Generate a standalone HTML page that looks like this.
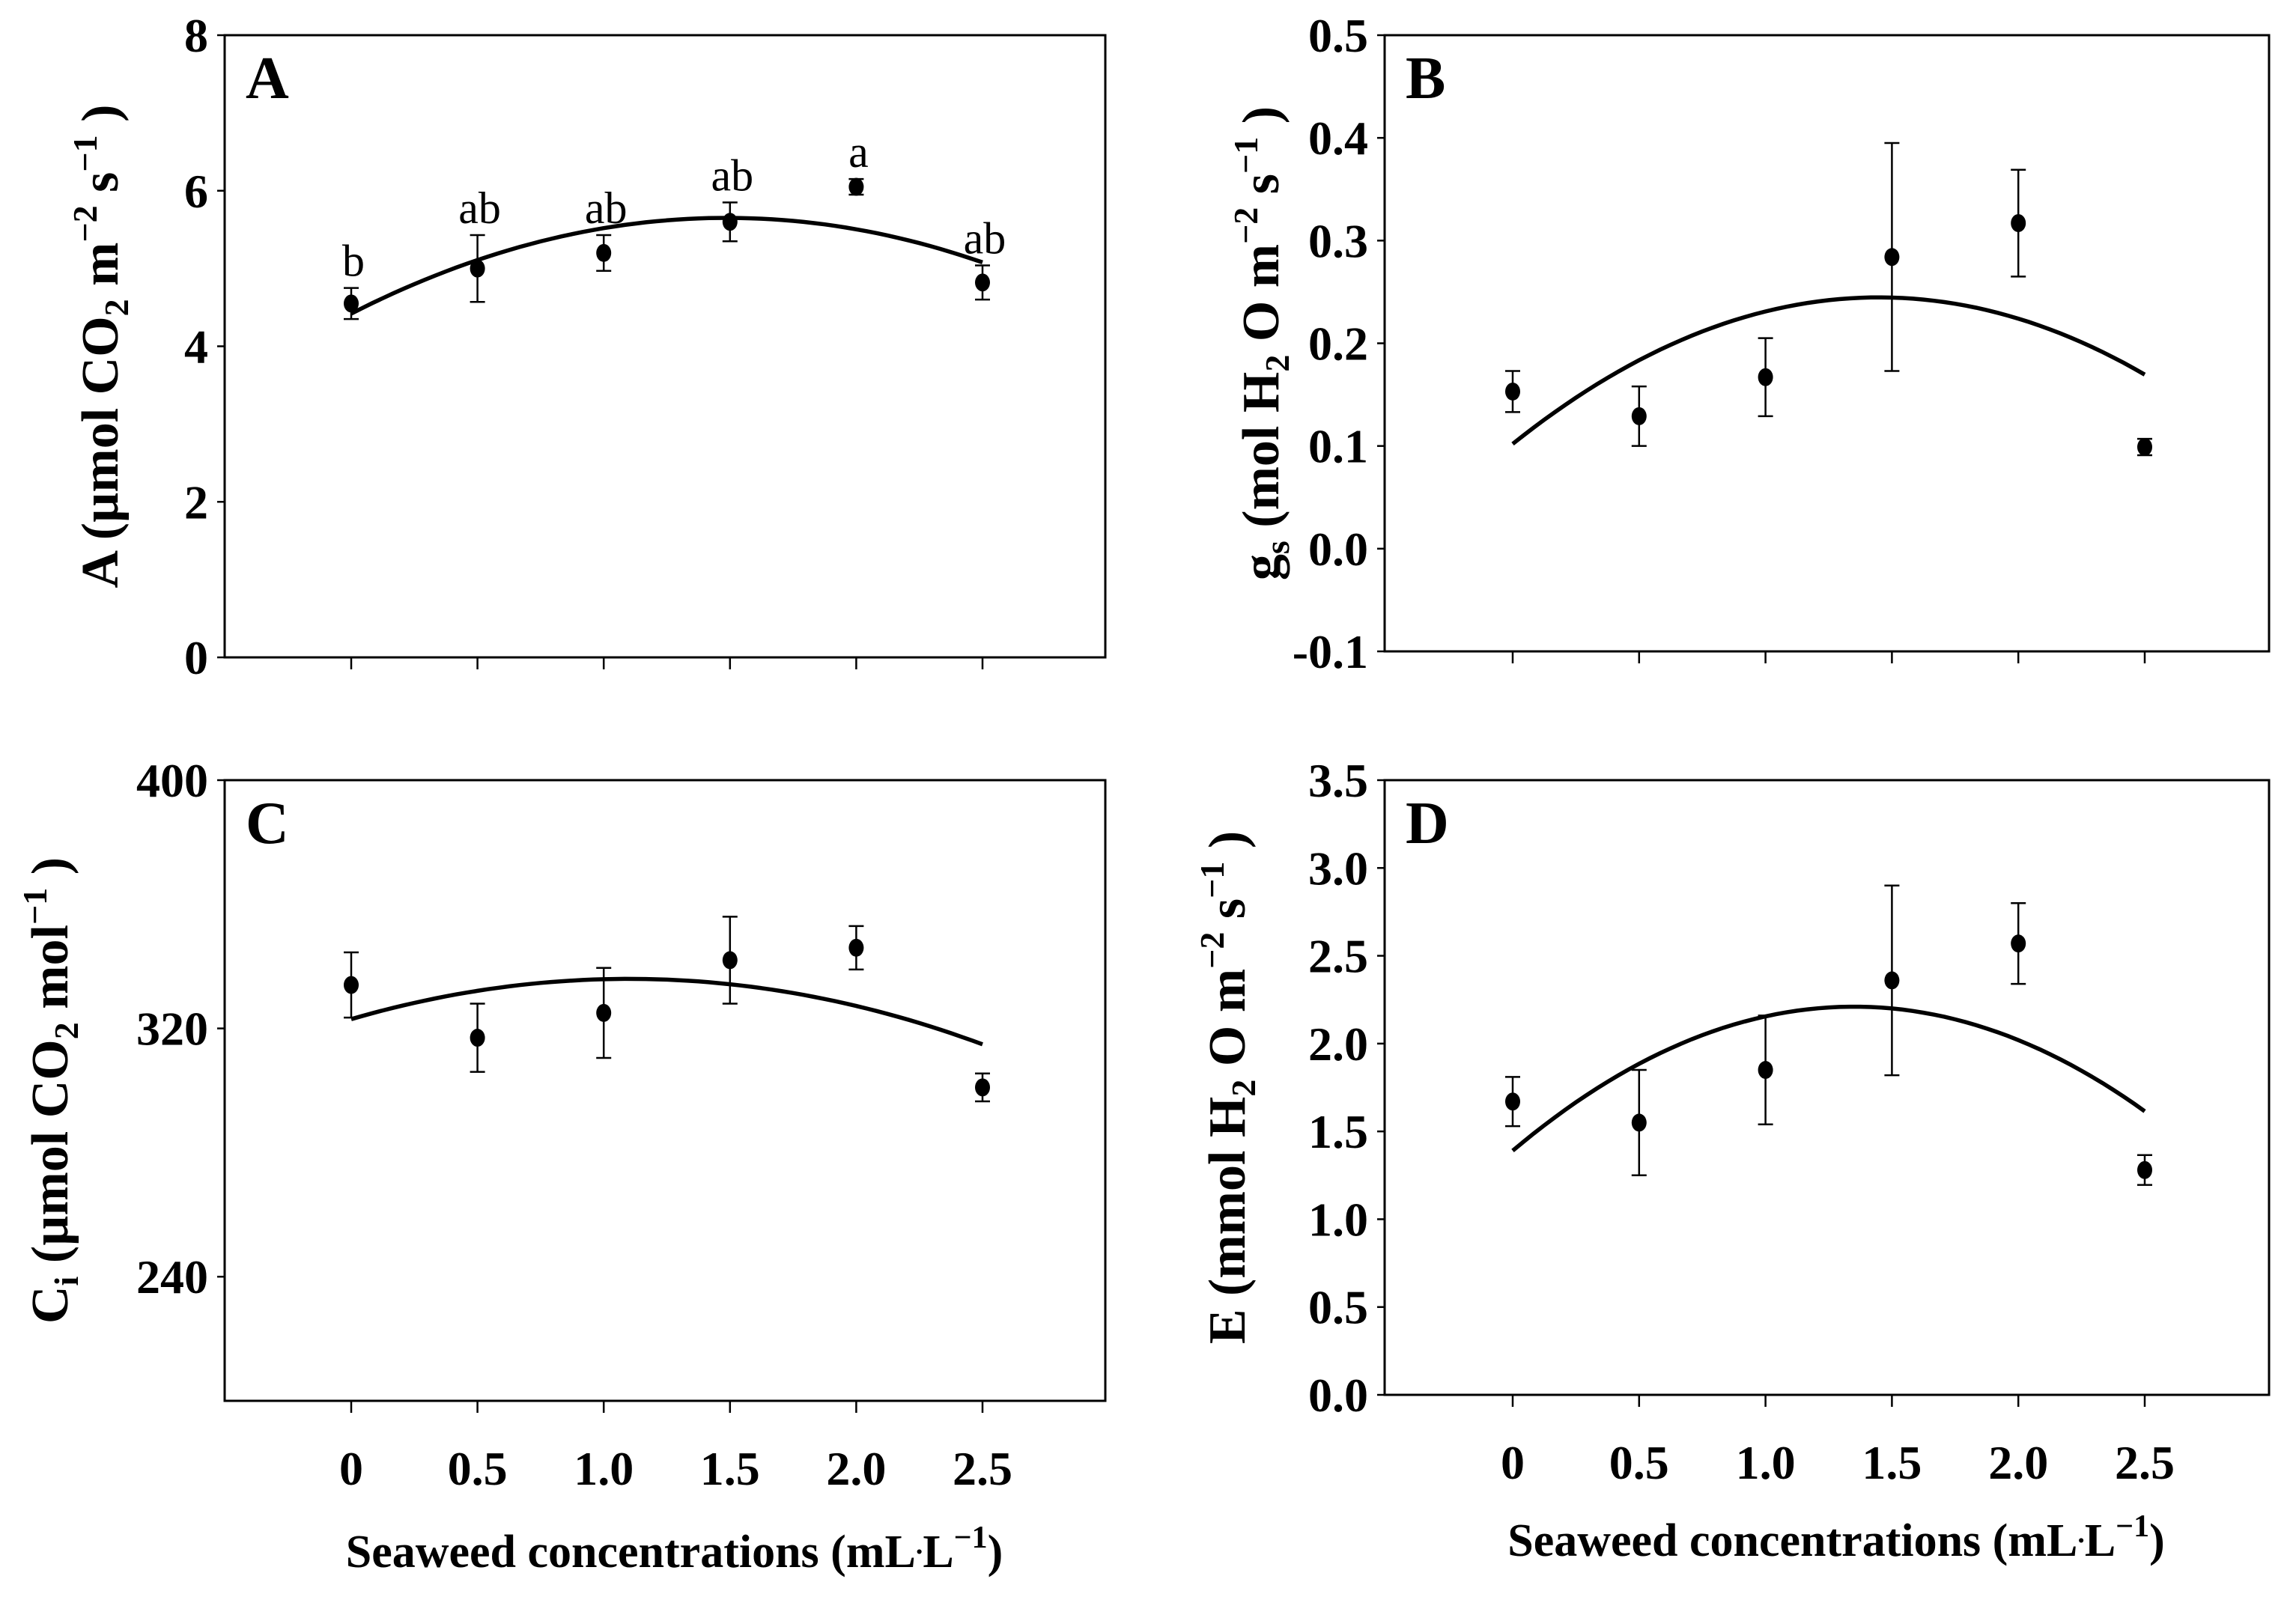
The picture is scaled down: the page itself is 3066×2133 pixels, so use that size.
<!DOCTYPE html>
<html><head><meta charset="utf-8"><style>
html,body{margin:0;padding:0;background:#fff;}
svg{display:block;}
text{font-family:"Liberation Serif",serif;fill:#000;}
</style></head><body>
<svg id="fig" width="3066" height="2133" viewBox="0 0 3066 2133" xmlns="http://www.w3.org/2000/svg"></svg>
<script>
// shared x categories
const xCats = [0, 0.5, 1.0, 1.5, 2.0, 2.5];
const xTickLabels = ["0", "0.5", "1.0", "1.5", "2.0", "2.5"];
// Panel A
const aMeans = [4.55, 5.0, 5.2, 5.6, 6.05, 4.82];
const aErr = [0.2, 0.43, 0.23, 0.25, 0.1, 0.22];
const aLetters = ["b", "ab", "ab", "ab", "a", "ab"];
const aFit = [4.42, 1.656, -0.557];
const aTicks = [0, 2, 4, 6, 8];
const aTickLabels = ["0", "2", "4", "6", "8"];
// Panel B
const bMeans = [0.153, 0.129, 0.167, 0.284, 0.317, 0.099];
const bErr = [0.02, 0.029, 0.038, 0.111, 0.052, 0.008];
const bFit = [0.102, 0.197, -0.068];
const bTicks = [-0.1, 0, 0.1, 0.2, 0.3, 0.4, 0.5];
const bTickLabels = ["-0.1", "0.0", "0.1", "0.2", "0.3", "0.4", "0.5"];
// Panel C
const cMeans = [334, 317, 325, 342, 346, 301];
const cErr = [10.5, 11, 14.5, 14, 7, 4.5];
const cFit = [323, 23.6, -10.74];
const cTicks = [240, 320, 400];
const cTickLabels = ["240", "320", "400"];
// Panel D
const dMeans = [1.67, 1.55, 1.85, 2.36, 2.57, 1.28];
const dErr = [0.14, 0.3, 0.31, 0.54, 0.23, 0.085];
const dFit = [1.39, 1.215, -0.45];
const dTicks = [0, 0.5, 1, 1.5, 2, 2.5, 3, 3.5];
const dTickLabels = ["0.0", "0.5", "1.0", "1.5", "2.0", "2.5", "3.0", "3.5"];

const NS = "http://www.w3.org/2000/svg";
const svg = document.getElementById("fig");
function mk(tag, attrs, parent) {
  const e = document.createElementNS(NS, tag);
  for (const k in attrs) e.setAttribute(k, attrs[k]);
  (parent || svg).appendChild(e);
  return e;
}

function panel(cfg) {
  const g = mk("g", {});
  
  
  const L = cfg.box[0], R = cfg.box[1], T = cfg.box[2], B = cfg.box[3];
  const x0 = cfg.x0, x1 = cfg.x1;
  const sx = v => x0 + (v - xCats[0]) / (xCats[xCats.length - 1] - xCats[0]) * (x1 - x0);
  const sy = v => B - (v - cfg.ymin) / (cfg.ymax - cfg.ymin) * (B - T);
  const frame = mk("rect", {x: L, y: T, width: R - L, height: B - T, fill: "none", stroke: "#000", "stroke-width": 3}, g);
  
  
  cfg.yTicks.forEach((v, i) => {
    const y = sy(v);
    const t = mk("line", {x1: L - 10, x2: L, y1: y, y2: y, stroke: "#000", "stroke-width": 2.5}, g);
    
    
    const tl = mk("text", {x: L - 22, y: y + 22, "text-anchor": "end", "font-size": 64, "font-weight": "bold"}, g);
    tl.textContent = cfg.yTickLabels[i];
    
    
  });
  xCats.forEach((v, i) => {
    const x = sx(v);
    const t = mk("line", {x1: x, x2: x, y1: B, y2: B + 16, stroke: "#000", "stroke-width": 2.5}, g);
    
    
    if (cfg.showX) {
      const tl = mk("text", {x: x, y: B + 112, "text-anchor": "middle", "font-size": 64, "font-weight": "bold"}, g);
      tl.textContent = xTickLabels[i];
      
      
    }
  });
  let d = "";
  const n = 60;
  for (let k = 0; k <= n; k++) {
    const xv = xCats[0] + (xCats[xCats.length - 1] - xCats[0]) * k / n;
    const yv = cfg.fit[0] + cfg.fit[1] * xv + cfg.fit[2] * xv * xv;
    d += (k ? "L" : "M") + sx(xv).toFixed(1) + "," + sy(yv).toFixed(1);
  }
  const c = mk("path", {d: d, fill: "none", stroke: "#000", "stroke-width": 5.5}, g);
  
  
  cfg.means.forEach((m, i) => {
    const x = sx(xCats[i]);
    const yt = sy(m + cfg.err[i]), yb = sy(m - cfg.err[i]);
    const eb = mk("path", {d: `M${x},${yt}L${x},${yb}M${x-10},${yt}L${x+10},${yt}M${x-10},${yb}L${x+10},${yb}`, stroke: "#000", "stroke-width": 2.5, fill: "none"}, g);
    
    
    const p = mk("ellipse", {cx: x, cy: sy(m), rx: 10, ry: 12, fill: "#000"}, g);
    
    
    if (cfg.letters) {
      const lt = mk("text", {x: x + 3, y: yt - 16, "text-anchor": "middle", "font-size": 60}, g);
      lt.textContent = cfg.letters[i];
      
      
    }
  });
  const pl = mk("text", {x: L + 28, y: T + 84, "font-size": 80, "font-weight": "bold"}, g);
  pl.textContent = cfg.letter;
  
  
  const yt = mk("text", {transform: `translate(${cfg.titleX},${(T + B) / 2}) rotate(-90)`, "text-anchor": "middle", "font-size": 70, "font-weight": "bold"}, g);
  yt.innerHTML = cfg.title;
  
  
  if (cfg.showX) {
    const xt = mk("text", {x: (x0 + x1) / 2 + 10, y: B + cfg.xTitleDy, "text-anchor": "middle", "font-size": 62, "font-weight": "bold"}, g);
    xt.innerHTML = 'Seaweed concentrations (mL<tspan dy="-18" font-size="38">.</tspan><tspan dy="18">L</tspan><tspan dy="-26" font-size="42">&#8722;1</tspan><tspan dy="26">)</tspan>';
    
    
  }
}

const sub = s => `<tspan dy="14" font-size="46">${s}</tspan><tspan dy="-14"> </tspan>`;
const sup = s => `<tspan dy="-28" font-size="46">${s}</tspan><tspan dy="28"> </tspan>`;

panel({name: "panel-a", letter: "A", box: [300, 1476, 47, 878], x0: 469, x1: 1312, ymin: 0, ymax: 8,
  yTicks: aTicks, yTickLabels: aTickLabels, means: aMeans, err: aErr, fit: aFit, letters: aLetters, showX: false,
  titleX: 157, title: `A (µmol CO${sub("2")}m${sup("&#8722;2")}s${sup("&#8722;1")})`});
panel({name: "panel-b", letter: "B", box: [1849, 3030, 47, 870], x0: 2020, x1: 2864, ymin: -0.1, ymax: 0.5,
  yTicks: bTicks, yTickLabels: bTickLabels, means: bMeans, err: bErr, fit: bFit, showX: false,
  titleX: 1707, title: `g${sub("s")}(mol H${sub("2")}O m${sup("&#8722;2")}s${sup("&#8722;1")})`});
panel({name: "panel-c", letter: "C", box: [300, 1476, 1042, 1871], x0: 469, x1: 1312, ymin: 200, ymax: 400,
  yTicks: cTicks, yTickLabels: cTickLabels, means: cMeans, err: cErr, fit: cFit, showX: true, xTitleDy: 222,
  titleX: 90, title: `C${sub("i")}(µmol CO${sub("2")}mol${sup("&#8722;1")})`});
panel({name: "panel-d", letter: "D", box: [1849, 3030, 1042, 1863], x0: 2020, x1: 2864, ymin: 0, ymax: 3.5,
  yTicks: dTicks, yTickLabels: dTickLabels, means: dMeans, err: dErr, fit: dFit, showX: true, xTitleDy: 215,
  titleX: 1662, title: `E (mmol H${sub("2")}O m${sup("&#8722;2")}s${sup("&#8722;1")})`});
</script>
</body></html>
